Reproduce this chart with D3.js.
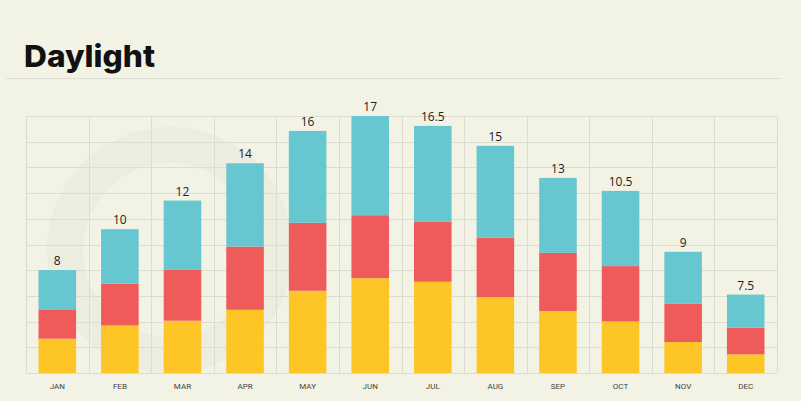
<!DOCTYPE html>
<html><head><meta charset="utf-8">
<script src="https://cdn.jsdelivr.net/npm/d3@7/dist/d3.min.js"></script>
<style>html,body{margin:0;padding:0;background:#f2f2e5;}svg{display:block;}</style>
</head><body>
<svg id="c" width="801" height="401"></svg>
<script>
const months = ["JAN","FEB","MAR","APR","MAY","JUN","JUL","AUG","SEP","OCT","NOV","DEC"];
const labels = ["8","10","12","14","16","17","16.5","15","13","10.5","9","7.5"];
const yellow = [2.67,3.70,4.07,4.92,6.40,7.38,7.10,5.90,4.82,4.01,2.41,1.45];
const red    = [2.28,3.24,3.99,4.92,5.29,4.90,4.69,4.63,4.53,4.31,3.00,2.08];
const blue   = [3.06,4.25,5.36,6.48,7.15,7.72,7.44,7.15,5.83,5.85,4.02,2.57];
const seriesKeys = ["yellow","red","blue"];
const colors = {yellow:"#fec526", red:"#ef5b5a", blue:"#66c7d0"};

const svg = d3.select("#c");
const W = 801, H = 401;
const m = {l:26, r:24, t:116, b:28};
const x0 = m.l, x1 = W - m.r, y0 = H - m.b, yTop = m.t;

svg.append("rect").attr("width",W).attr("height",H).attr("fill","#f2f2e5");

// faint watermark ring
const wm = svg.append("g").attr("fill","none").attr("stroke","#ececdf");
wm.append("circle").attr("cx",170).attr("cy",250).attr("r",105).attr("stroke-width",36);

// title
svg.append("text").attr("x",24).attr("y",67).text("Daylight")
  .attr("font-family","Inter, 'Noto Sans', sans-serif").attr("font-weight",800)
  .attr("font-size",30).attr("fill","#111").attr("textLength",131).attr("lengthAdjust","spacingAndGlyphs");
svg.append("line").attr("x1",6).attr("x2",782).attr("y1",78.5).attr("y2",78.5)
  .attr("stroke","#deded2").attr("stroke-width",1.2);

const data = months.map((mo,i)=>({month:mo, label:labels[i], yellow:yellow[i], red:red[i], blue:blue[i]}));
const x = d3.scaleBand().domain(months).range([x0,x1]).paddingInner(0.4).paddingOuter(0.2);
const grid = d3.scaleBand().domain(months).range([x0,x1]);
const y = d3.scaleLinear().domain([0,20]).range([y0,yTop]);

// grid
const g = svg.append("g").attr("stroke","#dcdcd0").attr("stroke-width",1);
g.selectAll("line.h").data(d3.range(0,21,2)).join("line").attr("class","h")
  .attr("x1",x0).attr("x2",x1).attr("y1",d=>Math.round(y(d))+0.5).attr("y2",d=>Math.round(y(d))+0.5);
g.selectAll("line.v").data(months.map(d=>grid(d)).concat([x1])).join("line").attr("class","v")
  .attr("x1",d=>Math.round(d)+0.5).attr("x2",d=>Math.round(d)+0.5).attr("y1",yTop).attr("y2",y0);

const stack = d3.stack().keys(seriesKeys)(data);
svg.append("g").selectAll("g").data(stack).join("g").attr("fill",d=>colors[d.key])
  .selectAll("rect").data(d=>d).join("rect")
  .attr("x",d=>x(d.data.month)).attr("width",x.bandwidth())
  .attr("y",d=>y(d[1])).attr("height",d=>y(d[0])-y(d[1]));

const tops = stack[stack.length-1];
svg.append("g").selectAll("text").data(tops).join("text")
  .attr("x",d=>x(d.data.month)+x.bandwidth()/2).attr("y",d=>y(d[1])-5)
  .attr("text-anchor","middle").attr("font-family","'Open Sans', sans-serif")
  .attr("font-size",12).attr("fill","#222").text(d=>d.data.label);

const xa = svg.append("g").attr("transform",`translate(0,${y0})`)
  .call(d3.axisBottom(x).tickSize(0).tickPadding(10));
xa.select(".domain").remove();
xa.selectAll("text").attr("font-family","Roboto, sans-serif").attr("font-size",8).attr("fill","#444");
</script>
</body></html>
